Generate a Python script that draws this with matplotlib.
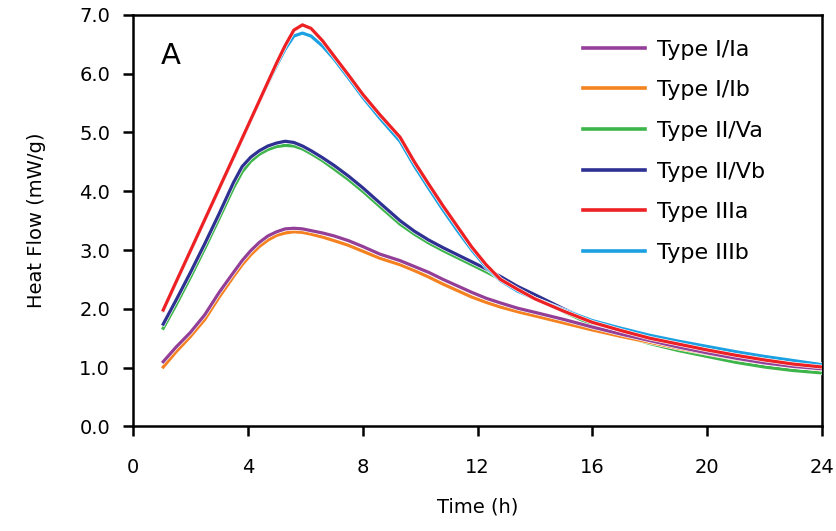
import matplotlib
matplotlib.use("Agg")
import matplotlib.pyplot as plt
import matplotlib.patheffects as pe

# zaman (saat)
time = [1.05, 1.5, 2.0, 2.5, 3.0, 3.5, 3.8, 4.1, 4.4, 4.7, 5.0, 5.3, 5.6, 5.9, 6.2, 6.6,
        7.0, 7.5, 8.0, 8.6, 9.3, 9.8, 10.3, 10.8, 11.3, 11.8, 12.3, 12.8, 13.4, 14.0,
        15.0, 16, 17, 18, 19, 20, 21, 22, 23, 24]

type_1a = [1.10, 1.35, 1.60, 1.90, 2.28, 2.62, 2.82, 2.99, 3.13, 3.24, 3.31, 3.36, 3.37, 3.36,
           3.33, 3.29, 3.24, 3.16, 3.06, 2.93, 2.82, 2.72, 2.62, 2.50, 2.39, 2.28, 2.18, 2.10,
           2.01, 1.94, 1.82, 1.69, 1.57, 1.46, 1.35, 1.25, 1.16, 1.08, 1.02, 0.98]
type_1b = [1.01, 1.27, 1.53, 1.82, 2.20, 2.55, 2.75, 2.92, 3.06, 3.17, 3.25, 3.29, 3.31, 3.30,
           3.27, 3.22, 3.16, 3.08, 2.98, 2.86, 2.75, 2.65, 2.54, 2.42, 2.31, 2.20, 2.11, 2.03,
           1.95, 1.88, 1.76, 1.64, 1.53, 1.43, 1.33, 1.24, 1.15, 1.08, 1.02, 0.97]
type_2va = [1.67, 2.07, 2.54, 3.03, 3.54, 4.06, 4.33, 4.51, 4.63, 4.71, 4.76, 4.78, 4.77, 4.72,
            4.64, 4.52, 4.38, 4.20, 4.00, 3.74, 3.44, 3.27, 3.12, 2.99, 2.87, 2.75, 2.63, 2.50,
            2.34, 2.19, 1.95, 1.73, 1.55, 1.41, 1.29, 1.19, 1.09, 1.01, 0.95, 0.91]
type_2vb = [1.74, 2.15, 2.62, 3.11, 3.62, 4.15, 4.42, 4.58, 4.69, 4.77, 4.82, 4.85, 4.83, 4.77,
            4.69, 4.57, 4.44, 4.26, 4.06, 3.80, 3.50, 3.32, 3.17, 3.04, 2.92, 2.80, 2.68, 2.55,
            2.38, 2.24, 2.00, 1.78, 1.60, 1.46, 1.36, 1.27, 1.18, 1.10, 1.04, 0.99]
type_3a = [1.98, 2.46, 2.99, 3.52, 4.05, 4.58, 4.90, 5.22, 5.54, 5.86, 6.18, 6.48, 6.74, 6.83,
           6.77, 6.56, 6.30, 5.98, 5.65, 5.30, 4.92, 4.50, 4.12, 3.75, 3.40, 3.05, 2.75, 2.50,
           2.33, 2.17, 1.96, 1.77, 1.63, 1.50, 1.40, 1.30, 1.21, 1.13, 1.06, 1.01]
type_3b = [1.97, 2.45, 2.98, 3.51, 4.04, 4.57, 4.89, 5.21, 5.53, 5.84, 6.14, 6.42, 6.64, 6.69,
           6.64, 6.47, 6.25, 5.93, 5.60, 5.24, 4.85, 4.43, 4.05, 3.68, 3.33, 3.00, 2.71, 2.48,
           2.30, 2.17, 1.98, 1.80, 1.67, 1.55, 1.45, 1.36, 1.27, 1.19, 1.12, 1.05]

labels = ["Type I/Ia", "Type I/Ib", "Type II/Va", "Type II/Vb", "Type IIIa", "Type IIIb"]
colors = ["#933f98", "#f58220", "#3db54a", "#2e3192", "#ed2024", "#1ba1e2"]
series = [type_1a, type_1b, type_2va, type_2vb, type_3a, type_3b]
zorders = [5, 4, 3.5, 4.5, 6, 5.5]

plt.rcParams['font.family'] = ['DejaVu Sans']

fig = plt.figure(figsize=(8.37, 5.31), dpi=100)
ax = fig.add_axes([0.159, 0.197, 0.823, 0.775])

for y, lab, c, z in zip(series, labels, colors, zorders):
    ax.plot(time, y, color=c, lw=2.3, label=lab, zorder=z, solid_joinstyle="round",
            path_effects=[pe.Stroke(linewidth=3.2, foreground="white"), pe.Normal()])

ax.set_xlim(0, 24)
ax.set_ylim(0, 7)
ax.set_xticks(range(0, 25, 4))
ax.set_yticks(range(0, 8))
ax.set_yticklabels(["%.1f" % v for v in range(0, 8)])
ax.tick_params(direction="out", length=7.5, width=1.8, labelsize=14, pad=9)
ax.tick_params(axis="x", pad=15)
for s in ax.spines.values():
    s.set_linewidth(1.8)

ax.set_xlabel("Time (h)", fontsize=14, labelpad=15)
ax.set_ylabel("Heat Flow (mW/g)", fontsize=14, labelpad=24)
ax.text(0.04, 0.9, "A", transform=ax.transAxes, fontsize=21, va="center")

leg = ax.legend(loc="upper left", bbox_to_anchor=(0.653, 0.94), frameon=False, fontsize=16,
                handlelength=2.8, handletextpad=0.55, labelspacing=0.93,
                borderpad=0, borderaxespad=0)
for h in leg.get_lines():
    h.set_linewidth(2.6)
    h.set_path_effects([])

fig.savefig("out.png", dpi=100)
